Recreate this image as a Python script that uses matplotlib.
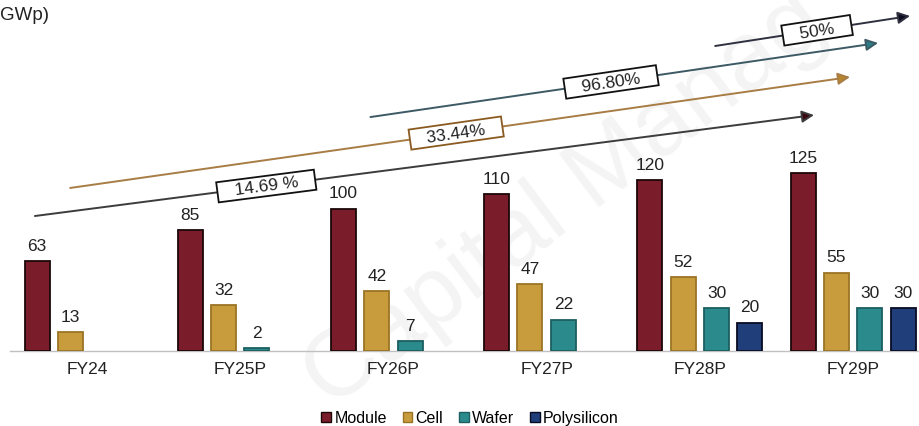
import math
import matplotlib
matplotlib.use("Agg")
import matplotlib.pyplot as plt
from matplotlib.patches import Patch, FancyArrowPatch

# ---------------- data ----------------
categories = ['FY24', 'FY25P', 'FY26P', 'FY27P', 'FY28P', 'FY29P']
series_names = ['Module', 'Cell', 'Wafer', 'Polysilicon']
module = [63, 85, 100, 110, 120, 125]
cell = [13, 32, 42, 47, 52, 55]
wafer = [None, 2, 7, 22, 30, 30]
polysilicon = [None, None, None, None, 20, 30]
cagr_labels = ['14.69 %', '33.44%', '96.80%', '50%']

# ---------------- layout / style ----------------
W, H, DPI = 920, 427, 100
fills = ['#7b1c2a', '#c89b3c', '#2b8a8c', '#1f3e7a']
edges = ['#1a0808', '#9a7425', '#1d5f60', '#080c22']
arrow_line = ['#3c3c3c', '#a87d45', '#3d5a64', '#2f3040']
arrow_head = ['#3a0810', '#b8862a', '#2a7d85', '#0d0d20']
box_edge = ['#111111', '#8a5a20', '#111111', '#111111']
# arrow geometry in (category, value) units
arrow_starts = [(-0.34, 94.8), (-0.11, 114.5), (1.85, 164.3), (4.10, 214.2)]
arrow_ends = [(4.745, 165.7), (4.98, 192.4), (5.163, 216.3), (5.372, 235.3)]
label_frac = [0.297, 0.495, 0.474, 0.523]

plt.rcParams['font.family'] = ['Liberation Sans', 'DejaVu Sans']

fig = plt.figure(figsize=(W / DPI, H / DPI), dpi=DPI)

# faint watermark, behind everything
fig.text(330 / W, 1 - 410 / H, 'Capital Manag', fontsize=70, rotation=37,
         rotation_mode='anchor', ha='left', va='baseline', color='#f4f4f4',
         zorder=-5)

ax = fig.add_axes([10 / W, (H - 352) / H, 910 / W, 352 / H])
ax.set_zorder(1)
ax.set_xlim(-0.5026, 5.437)
ax.set_ylim(0, 247.2)
ax.patch.set_alpha(0)

slot = 0.2175
bw = 0.163
series = [module, cell, wafer, polysilicon]
for si, vals in enumerate(series):
    off = (si - 1.5) * slot
    for ci, v in enumerate(vals):
        if v is None:
            continue
        ax.bar(ci + off, v, width=bw, color=fills[si], edgecolor=edges[si],
               linewidth=1.3, zorder=3)
        ax.annotate(str(v), (ci + off, v), xytext=(0, 6),
                    textcoords='offset points', ha='center', va='bottom',
                    fontsize=12.5, color='#222222', zorder=4)

# axes styling
for s in ['top', 'right', 'left']:
    ax.spines[s].set_visible(False)
ax.spines['bottom'].set_color('#c0c0c0')
ax.spines['bottom'].set_linewidth(1.0)
ax.set_yticks([])
ax.set_xticks(range(len(categories)))
ax.set_xticklabels(categories, fontsize=12.5, color='#222222')
ax.tick_params(axis='x', length=0, pad=7)

# CAGR arrows
for i, lab in enumerate(cagr_labels):
    s = arrow_starts[i]
    e = arrow_ends[i]
    arr = FancyArrowPatch(s, e, arrowstyle='-|>', mutation_scale=18,
                          linewidth=1.4, edgecolor=arrow_line[i],
                          facecolor=arrow_head[i], zorder=5, clip_on=False,
                          shrinkA=0, shrinkB=0)
    ax.add_patch(arr)
    p0 = ax.transData.transform(s)
    p1 = ax.transData.transform(e)
    ang = math.degrees(math.atan2(p1[1] - p0[1], p1[0] - p0[0]))
    f = label_frac[i]
    cx = s[0] + f * (e[0] - s[0])
    cy = s[1] + f * (e[1] - s[1])
    ax.text(cx, cy, '   ' + lab + '   ', rotation=ang, rotation_mode='anchor',
            ha='center', va='center', fontsize=12.5, color='#222222', zorder=6,
            bbox=dict(boxstyle='square,pad=0.15', facecolor='white',
                      edgecolor=box_edge[i], linewidth=1.3))

# legend
handles = [Patch(facecolor=fills[i], edgecolor=edges[i], linewidth=1.0)
           for i in range(4)]
fig.legend(handles, series_names, loc='center',
           bbox_to_anchor=(470 / W, 1 - 419 / H), ncol=4, frameon=False,
           fontsize=11.5, handlelength=0.6, handleheight=0.6,
           handletextpad=0.2, columnspacing=1.0, borderaxespad=0)

# title fragment at top-left
fig.text(0, 1 - 20 / H, 'GWp)', fontsize=13.5, ha='left', va='baseline',
         color='#222222')

fig.savefig('out.png', dpi=DPI)
